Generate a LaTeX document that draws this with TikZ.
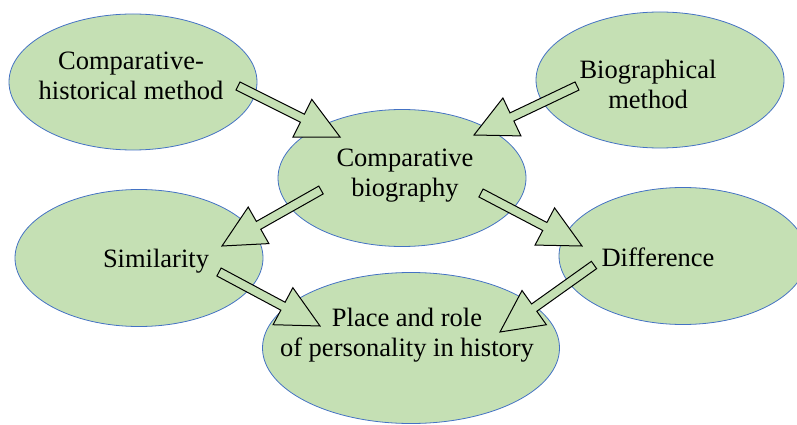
\documentclass[tikz,border=0pt]{standalone}
\usepackage{fontspec}
\setmainfont{Liberation Serif}
\usetikzlibrary{shapes.geometric,calc}
\definecolor{ellfill}{HTML}{C5E0B4}
\definecolor{ellline}{HTML}{4472C4}
\tikzset{
  bubble/.style={ellipse, draw=ellline, fill=ellfill, line width=0.8pt, inner sep=0pt},
  label/.style={align=center, inner sep=0pt, font=\fontsize{26.5}{30}\selectfont},
  blockarrow/.style={draw=black, fill=ellfill, line width=1pt, line join=miter}
}
% block arrow from tail #1 to tip #2
\newcommand{\blockarrow}[2]{
  \coordinate (#1-#2) at ($(#2)!42pt!(#1)$);
  \draw[blockarrow] ($(#1)!4.5pt!-90:(#2)$) -- ($(#1-#2)!4.5pt!-90:(#2)$)
    -- ($(#1-#2)!21pt!-90:(#2)$) -- (#2) -- ($(#1-#2)!21pt!90:(#2)$)
    -- ($(#1-#2)!4.5pt!90:(#2)$) -- ($(#1)!4.5pt!90:(#2)$) -- cycle;
}
\begin{document}
\begin{tikzpicture}[x=1pt, y=-1pt]
\useasboundingbox (0,0) rectangle (797,425);
\clip (0,0) rectangle (797,425);
% ellipses
\node[bubble, minimum width=248, minimum height=136] (E_chm) at (133,82) {};
\node[bubble, minimum width=248, minimum height=136] (E_bio) at (660,80) {};
\node[bubble, minimum width=248, minimum height=137] (E_cb) at (402,178) {};
\node[bubble, minimum width=248, minimum height=137] (E_sim) at (139,258) {};
\node[bubble, minimum width=248, minimum height=137] (E_diff) at (683,256) {};
\node[bubble, minimum width=297, minimum height=151] (E_place) at (411,348) {};
% texts
\node[label] (T_chm) at (131,75.5) {Comparative-\\historical method};
\node[label] (T_bio) at (648,84) {Biographical\\method};
\node[label] (T_cb) at (405,176) {Comparative\\biography};
\node[label, anchor=base] (T_sim) at (156,267) {Similarity};
\node[label, anchor=base] (T_diff) at (658,266) {Difference};
\node[label] (T_place) at (407,335.5) {Place and role\\of personality in history};
% arrow ends
\coordinate (A_chm) at (238,86);
\coordinate (B_cb) at (340,137);
\coordinate (A_bio) at (577,86);
\coordinate (B_cb2) at (474,135);
\coordinate (A_cb) at (321,190);
\coordinate (B_sim) at (222,246);
\coordinate (A_cb2) at (481,193);
\coordinate (B_diff) at (582,246);
\coordinate (A_diff) at (594,265);
\coordinate (B_place) at (500,332);
\coordinate (A_sim) at (219,272);
\coordinate (B_place2) at (320,326);
% arrows
\blockarrow{A_chm}{B_cb}
\blockarrow{A_bio}{B_cb2}
\blockarrow{A_cb}{B_sim}
\blockarrow{A_cb2}{B_diff}
\blockarrow{A_diff}{B_place}
\blockarrow{A_sim}{B_place2}
\end{tikzpicture}
\end{document}
